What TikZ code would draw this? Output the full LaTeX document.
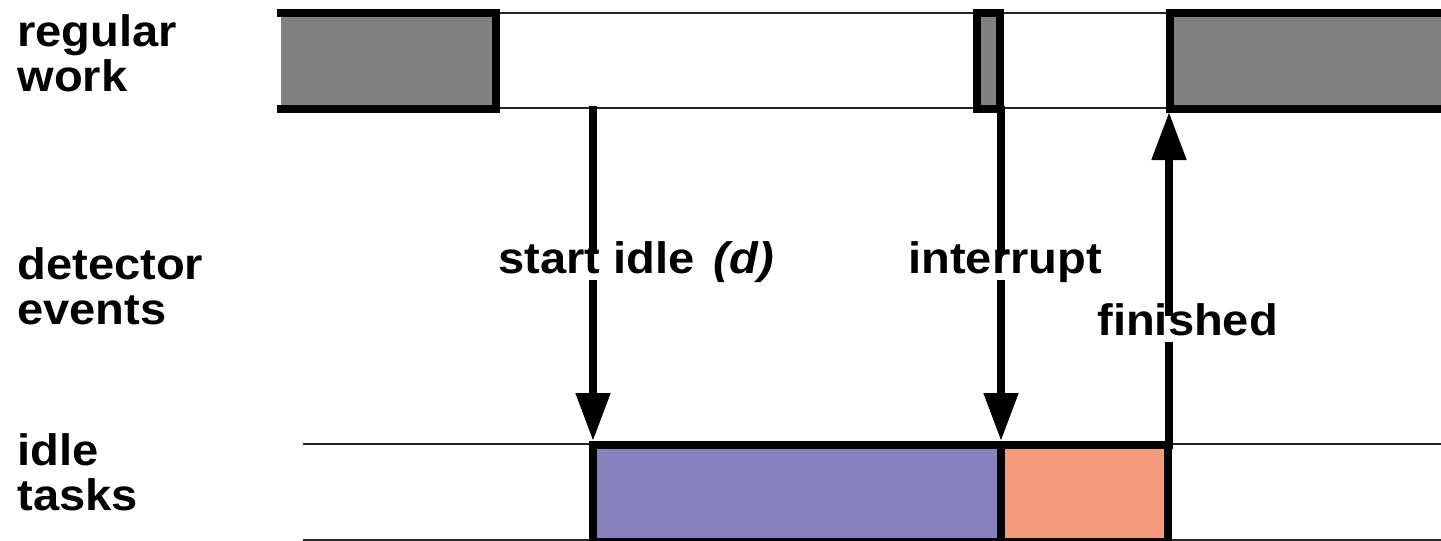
\documentclass[tikz,border=0pt]{standalone}
\usepackage{fontspec}
\setmainfont{Liberation Sans}[FakeStretch=1.07]
\usetikzlibrary{arrows.meta}

\definecolor{workgray}{RGB}{128,128,128}
\definecolor{idlepurple}{RGB}{135,129,189}
\definecolor{idlesalmon}{RGB}{244,153,122}

\tikzset{
  lane/.style={line width=0.75pt, black!85},
  slot/.style={line width=4pt, line join=miter, line cap=rect},
  event/.style={line width=4pt, -{Triangle[length=24pt,width=16.5pt]}},
  rowlabel/.style={font=\fontsize{22}{22.5}\selectfont\bfseries, inner sep=0pt, align=left, anchor=base west},
  evlabel/.style={font=\fontsize{22}{22}\selectfont\bfseries, fill=white, inner xsep=0pt, inner ysep=1.5pt,
                  text height=0.78em, text depth=0.22em, anchor=base west},
}

\begin{document}
\begin{tikzpicture}[x=0.5pt,y=-0.5pt]
  \useasboundingbox (0,0) rectangle (1441,541);

%row labels (anchored at the last line)
  \node[rowlabel] (lbl-work)   at (17,91)  {regular\\work};
  \node[rowlabel] (lbl-events) at (17,324) {detector\\events};
  \node[rowlabel] (lbl-tasks)  at (17,510) {idle\\tasks};

%regular work lane
  \draw[lane] (278,13) -- (1441,13);
  \draw[lane] (278,108) -- (1441,108);
  \fill[workgray] (281,13) rectangle (496,109);
  \draw[slot] (281,13) -- (496,13) -- (496,109) -- (281,109);
  \filldraw[slot, fill=workgray] (977,13) rectangle (1000,109);
  \fill[workgray] (1170,13) rectangle (1450,109);
  \draw[slot] (1450,13) -- (1170,13) -- (1170,109) -- (1450,109);

%idle tasks lane
  \draw[lane] (303,444) -- (1441,444);
  \draw[lane] (303,540) -- (1441,540);
  \filldraw[slot, fill=idlepurple] (593,445) rectangle (1001,542);
  \filldraw[slot, fill=idlesalmon] (1001,445) rectangle (1168,542);

%event points
  \coordinate (idle-from) at (593,106);
  \coordinate (idle-to)   at (593,441);
  \coordinate (intr-from) at (1001,106);
  \coordinate (intr-to)   at (1001,441);
  \coordinate (fin-from)  at (1169,449);
  \coordinate (fin-to)    at (1169,112);

  \draw[event] (idle-from) -- (idle-to);
  \draw[event] (intr-from) -- (intr-to);
  \draw[event] (fin-from) -- (fin-to);

  \node[evlabel] (lbl-idle) at (498,273)  {start idle\kern3pt{} \textit{(d)\kern2pt}};
  \node[evlabel] (lbl-intr) at (908,273)  {interrupt};
  \node[evlabel] (lbl-fin)  at (1097,335) {finished};

\end{tikzpicture}
\end{document}
